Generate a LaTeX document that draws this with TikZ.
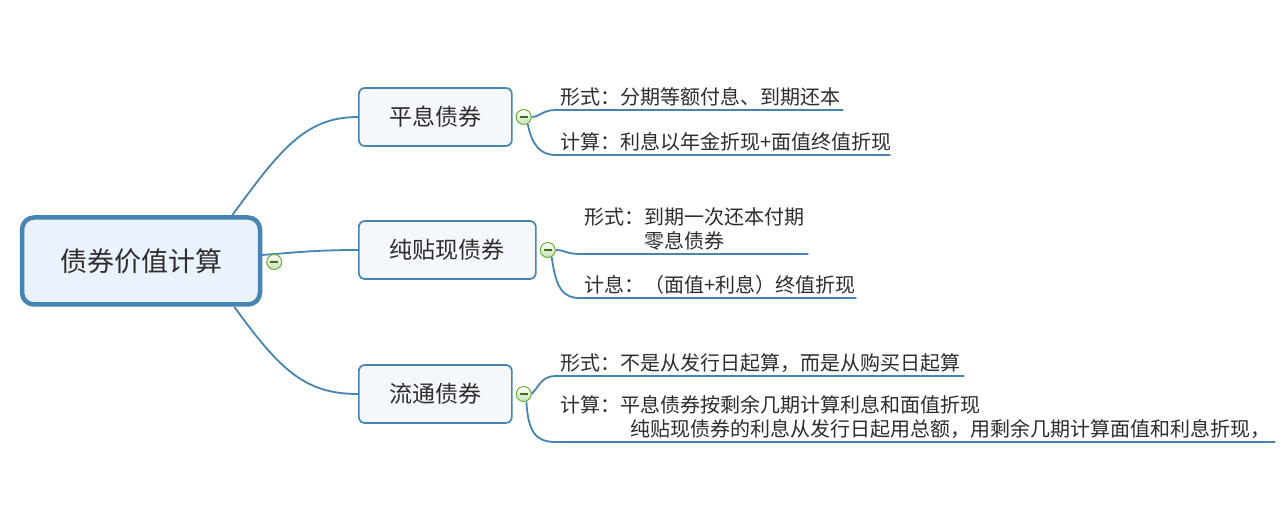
\documentclass[tikz,border=0pt]{standalone}
\usepackage{fontspec}
\setmainfont{Noto Sans CJK SC}
\definecolor{edge}{RGB}{70,132,180}
\definecolor{rootfill}{RGB}{234,242,251}
\definecolor{topicfill}{RGB}{244,248,253}
\definecolor{foldgreen}{RGB}{108,176,58}
\definecolor{ink}{RGB}{45,45,45}
\begin{document}
\begin{tikzpicture}[x=1pt,y=-1pt,
 root/.style={draw=edge,line width=4.5pt,rounded corners=12pt,fill=rootfill,text=ink,
  minimum width=238pt,minimum height=87pt,font=\fontsize{27}{30}\selectfont},
 topic/.style={draw=edge,line width=1.7pt,rounded corners=6pt,fill=topicfill,text=ink,
  anchor=west,minimum height=58pt,font=\fontsize{23}{26}\selectfont},
 leaf/.style={anchor=south west,align=left,inner xsep=4pt,inner ysep=3.5pt,
  text=ink,font=\fontsize{20}{24}\selectfont},
 fold/.style={circle,draw=foldgreen,line width=1pt,top color=white,bottom color=foldgreen!40,
  minimum size=15pt,inner sep=0pt,path picture={\draw[foldgreen!60!black,line width=1.2pt]
  ([xshift=-4pt]path picture bounding box.center)--([xshift=4pt]path picture bounding box.center);}},
 link/.style={draw=edge,line width=1.8pt}]
\fill[white](0,0)rectangle(1288,521);
\useasboundingbox(0,0)rectangle(1288,521);
\node[root](root)at(141,261){债券价值计算};
\node[topic,minimum width=153pt](t1)at(358,117){平息债券};
\node[topic,minimum width=177pt](t2)at(358,250){纯贴现债券};
\node[topic,minimum width=153pt](t3)at(358,394){流通债券};
\draw[link]([xshift=-30pt]root.north east).. controls (280,150) and (305,117) ..(t1.west);
\draw[link]([yshift=6pt]root.east).. controls (300,252) and (320,250) ..(t2.west);
\draw[link]([xshift=-28pt]root.south east).. controls (280,370) and (305,394) ..(t3.west);
\node[fold](f0)at([xshift=12pt,yshift=-1pt]root.east){};
\node[fold](f1)at([xshift=11pt]t1.east){};
\node[fold](f2)at([xshift=11pt]t2.east){};
\node[fold](f3)at([xshift=11pt]t3.east){};
\node[leaf,text width=279pt](a1)at(556,110){形式：分期等额付息、到期还本};
\node[leaf,text width=326pt](a2)at(556,155){计算：利息以年金折现+面值终值折现};
\node[leaf,text width=220pt](b1)at(580,254){形式：到期一次还本付期\\\hspace*{3em}零息债券};
\node[leaf,text width=268pt](b2)at(580,298){计息：（面值+利息）终值折现};
\node[leaf,text width=400pt](c1)at(556,376){形式：不是从发行日起算，而是从购买日起算};
\node[leaf,text width=711pt](c2)at(556,442){计算：平息债券按剩余几期计算利息和面值折现\\
 \hspace*{3.5em}纯贴现债券的利息从发行日起用总额，用剩余几期计算面值和利息折现，};
\draw[link](f1.east).. controls (540,117) and (542,110) ..(a1.south west)--(a1.south east);
\draw[link](f1.-60).. controls (532,145) and (540,155) ..(a2.south west)--(a2.south east);
\draw[link](f2.east).. controls (565,250) and (566,254) ..(b1.south west)--(b1.south east);
\draw[link](f2.-60).. controls (556,290) and (564,298) ..(b2.south west)--(b2.south east);
\draw[link](f3.east).. controls (540,385) and (542,376) ..(c1.south west)--(c1.south east);
\draw[link](f3.-70).. controls (528,435) and (538,442) ..(c2.south west)--(c2.south east);
\end{tikzpicture}
\end{document}
